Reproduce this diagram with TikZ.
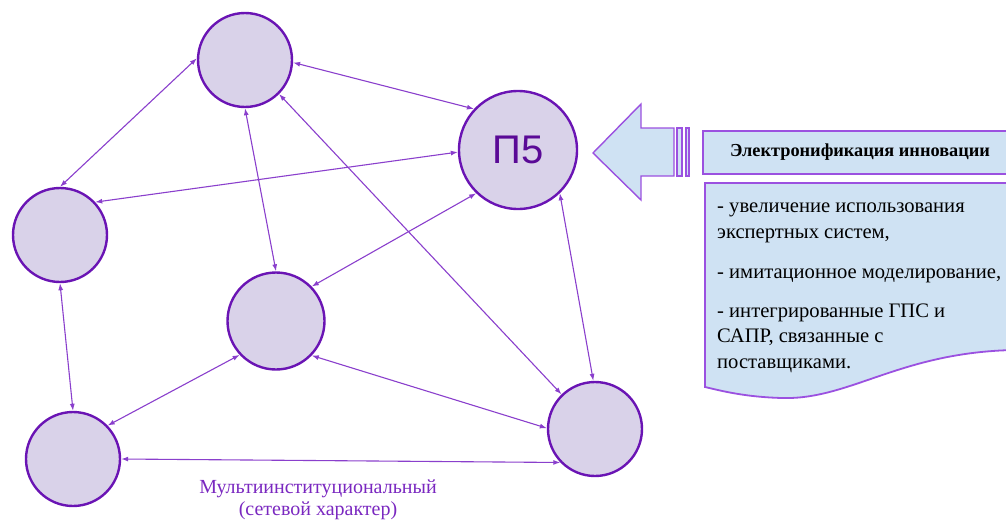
\documentclass[tikz,border=0pt]{standalone}
\usepackage{fontspec}
\setmainfont{Liberation Serif}
\newfontfamily\timesfont{Liberation Serif}
\newfontfamily\arialfont{Liberation Sans}
\usetikzlibrary{arrows.meta}

\definecolor{nodefill}{RGB}{217,210,233}
\definecolor{nodeline}{RGB}{106,20,180}
\definecolor{linkcol}{RGB}{138,63,204}
\definecolor{boxfill}{RGB}{207,226,243}
\definecolor{boxline}{RGB}{155,81,224}
\definecolor{textpurple}{RGB}{90,10,150}
\definecolor{labelcol}{RGB}{122,40,192}

\tikzset{
    netnode/.style={draw=nodeline, fill=nodefill, circle, line width=2.4pt, minimum size=94pt, inner sep=0pt},
    link/.style={draw=linkcol, line width=1.1pt, {Latex[length=7pt,width=5pt]}-{Latex[length=7pt,width=5pt]}},
    bluebox/.style={draw=boxline, fill=boxfill, line width=1.4pt},
}

\begin{document}
\begin{tikzpicture}[x=1pt, y=-1pt]
        \clip (0,0) rectangle (1006,522);

        \node[netnode] (top) at (245, 60) {};
        \node[netnode, minimum size=118pt, font=\arialfont\fontsize{40}{40}\selectfont, text=textpurple] (P5) at (518, 150) {П5};
        \node[netnode] (left) at (60, 235) {};
        \node[netnode, minimum size=97pt] (mid) at (276, 321) {};
        \node[netnode] (bl) at (73, 459) {};
        \node[netnode] (br) at (595, 429) {};

        \node[text=labelcol, align=center, font=\timesfont\fontsize{20}{22}\selectfont] (caption) at (318, 500) {Мультиинституциональный\\(сетевой характер)};

        \begin{scope}[link]
            \draw (top.-3) -- (P5.137);
            \draw (top.178) -- (left.90);
            \draw (P5.182) -- (left.43);
            \draw (top.-90) -- (mid.90);
            \draw (top.-45) -- (br.134);
            \draw (P5.-134) -- (mid.44);
            \draw (P5.-46) -- (br.92);
            \draw (left.-90) -- (bl.90);
            \draw (mid.223) -- (bl.44);
            \draw (mid.-44) -- (br.179);
            \draw (bl.0) -- (br.224);
        \end{scope}

        % big arrow with two bars
        \draw[bluebox] (593,153) -- (641,104) -- (641,128) -- (674,128) -- (674,176) -- (641,176) -- (641,200) -- cycle;
        \draw[bluebox] (677,128) rectangle (682,176);
        \draw[bluebox] (686,128) rectangle (689,176);

        \node[bluebox, line width=2.6pt, minimum width=314pt, minimum height=43pt, inner sep=0pt, font=\timesfont\bfseries\fontsize{18.3}{18.3}\selectfont] (title) at (860, 152.5) {Электронификация инновации};

        % document shape
        \draw[bluebox, line width=1.8pt] (705,183) -- (1015,183) -- (1015,350)
            .. controls (900,352) and (850,400) .. (782,398)
            .. controls (745,397) and (722,391) .. (705,387) -- cycle;
        \node[anchor=north west, inner sep=0pt, align=left, font=\timesfont\fontsize{20.6}{25.5}\selectfont] (doc) at (717, 203) {- увеличение использования\\экспертных систем,\\[15pt]- имитационное моделирование,\\[13pt]- интегрированные ГПС и\\САПР, связанные с\\поставщиками.};

    \end{tikzpicture}
\end{document}
